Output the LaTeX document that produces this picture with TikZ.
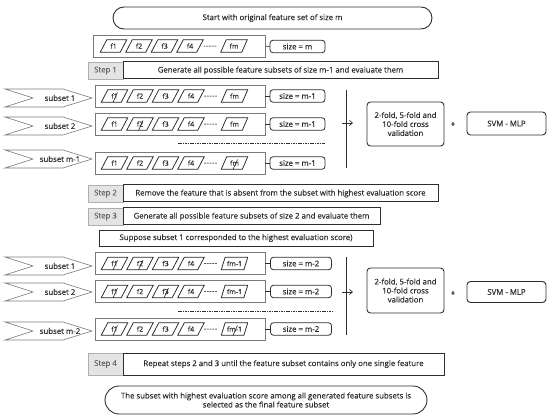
\documentclass[tikz,border=0pt]{standalone}
\usepackage{fontspec}
\setmainfont{Open Sans}[FakeBold=0.35]
\usetikzlibrary{shapes.geometric,arrows.meta}
\definecolor{dk}{HTML}{2E2E2E}
\definecolor{mid}{HTML}{7A7A7A}
\definecolor{stepgray}{HTML}{E4E4E4}
\begin{document}
\begin{tikzpicture}[x=1pt,y=-1pt,
  font=\fontsize{7.8}{9}\selectfont, text=dk,
  stadium/.style={draw=dk, line width=0.9pt, rounded corners=11pt, inner sep=0pt, align=center},
  fbox/.style={draw=mid, line width=0.7pt, minimum width=170pt, minimum height=22pt, inner sep=0pt},
  par/.style={trapezium, trapezium left angle=60, trapezium right angle=120, trapezium stretches=true,
     draw=black!85, line width=0.75pt, minimum width=26.5pt, minimum height=12.5pt, inner sep=0pt,
     font=\fontsize{7}{8}\selectfont},
  dots/.style={font=\fontsize{7.5}{8}\selectfont, inner sep=0pt},
  sizebox/.style={draw=dk, line width=0.8pt, rounded corners=3pt, minimum height=12.5pt, inner sep=0pt},
  steplab/.style={draw=mid!60, fill=stepgray, line width=0.5pt, minimum width=35pt, inner sep=0pt, text=black!60},
  steptxt/.style={draw=dk, line width=1pt, inner sep=0pt},
  rbox/.style={draw=dk, line width=0.9pt, rounded corners=3.5pt, inner sep=0pt, align=center},
  chev/.style={draw=mid, line width=0.6pt},
  link/.style={draw=dk, line width=0.7pt},
  strike/.style={draw=black!85, line width=0.6pt}
]
\useasboundingbox (0,0) rectangle (550,420);
\newcommand{\fivedash}{-\kern0.3pt-\kern0.3pt-\kern0.3pt-\kern0.3pt-}

% ---------- top ----------
\node[stadium, minimum width=319pt, minimum height=22pt] (start) at (272.5,18) {Start with original feature set of size m};

% row 0
\node[fbox, minimum width=172pt] (r0box) at (179,46) {};
\node[par] (r0f1) at (113.5,46) {f1};
\node[par] (r0f2) at (139,46) {f2};
\node[par] (r0f3) at (164.5,46) {f3};
\node[par] (r0f4) at (190,46) {f4};
\node[dots] (r0d) at (210,47) {\fivedash};
\node[par] (r0fm) at (234,46) {fm};
\node[sizebox, minimum width=55pt] (r0size) at (297.5,46.5) {size = m};
\draw[link] (r0box.east) -- (r0size.west);

% step 1
\node[steplab, minimum height=17pt] (s1l) at (105.5,70.5) {Step 1};
\node[steptxt, minimum width=315pt, minimum height=17pt] (s1t) at (280.5,70.5) {Generate all possible feature subsets of size m-1 and evaluate them};

% ---------- rows ----------
\newcommand{\chevron}[3]{%
  \draw[chev] (5,#2-9) -- (63,#2-9) -- (92,#2) -- (63,#2+9) -- (5,#2+9) -- (33,#2) -- cycle;
  \node (#1) at (60,#2) {#3};}
\newcommand{\featrow}[8]{% name, y, last label, size label, size x, size w, crosses, chevron y
  \node[fbox] (#1box) at (180,#2) {};
  \node[par] (#1f1) at (114.5,#2) {f1};
  \node[par] (#1f2) at (140,#2) {f2};
  \node[par] (#1f3) at (165.5,#2) {f3};
  \node[par] (#1f4) at (191,#2) {f4};
  \node[dots] (#1d) at (210.5,#2+1) {\fivedash};
  \node[par] (#1fm) at (234.5,#2) {#3};
  \node[sizebox, minimum width=#6pt] (#1size) at (#5,#2) {#4};
  \draw[link] (#1box.east) -- (#1size.west);
  \foreach \c in {#7} {\draw[strike] ([shift={(-1.5,6.5)}]#1\c.center) -- ([shift={(3,-3.5)}]#1\c.center);}
}

\featrow{ra}{96}{fm}{size = m-1}{297.5}{55}{f1}{98}
\chevron{ca}{98}{subset 1}
\featrow{rb}{124}{fm}{size = m-1}{297.5}{55}{f2}{126}
\chevron{cb}{126}{subset 2}
\coordinate (da1) at (178,143); \coordinate (da2) at (325,143);
\draw[link, dash pattern=on 1.6pt off 0.8pt, line width=0.6pt] (da1) -- (da2);
\featrow{rc}{163}{fm}{size = m-1}{297.5}{55}{fm}{159}
\chevron{cc}{159}{subset m-1}

% right side group 1
\coordinate (v1a) at (346,90); \coordinate (v1b) at (346,168);
\draw[draw=dk, line width=0.8pt] (v1a) -- (v1b);
\coordinate (ar1a) at (342,123); \coordinate (ar1b) at (353,123);
\draw[link, -{Straight Barb[length=3pt,width=5pt]}] (ar1a) -- (ar1b);
\node[rbox, minimum width=77pt, minimum height=44pt] (cv1) at (405.5,124) {2-fold, 5-fold and\\10-fold cross\\validation};
\node (plus1) at (453,124.5) {+};
\node[rbox, minimum width=79pt, minimum height=23pt] (svm1) at (506.5,123.5) {SVM - MLP};

% step 2, 3
\node[steplab, minimum height=17pt] (s2l) at (105.5,193.5) {Step 2};
\node[steptxt, minimum width=315pt, minimum height=17pt] (s2t) at (280.5,193.5) {Remove the feature that is absent from the subset with highest evaluation score};
\node[steplab, minimum height=17pt] (s3l) at (105.5,216.5) {Step 3};
\node[steptxt, minimum width=257pt, minimum height=17pt] (s3t) at (251.5,216.5) {Generate all possible feature subsets of size 2 and evaluate them};

\node[draw=dk, line width=0.7pt, minimum width=274pt, minimum height=16pt, inner sep=0pt] (sup) at (236,238) {Suppose subset 1 corresponded to the highest evaluation score)};

% ---------- group 2 rows ----------
\featrow{rd}{263.5}{fm-1}{size = m-2}{301}{61}{f1,f2}{266}
\chevron{cd}{266}{subset 1}
\featrow{re}{291.5}{fm-1}{size = m-2}{301}{61}{f1,f3}{292}
\chevron{ce}{292}{subset 2}
\coordinate (db1) at (178,311); \coordinate (db2) at (332,311);
\draw[link, dash pattern=on 1.6pt off 0.8pt, line width=0.6pt] (db1) -- (db2);
\featrow{rf}{329}{fm-1}{size = m-2}{301}{61}{f1,fm}{331}
\chevron{cf}{331}{subset m-2}

% right side group 2
\coordinate (v2a) at (346,257); \coordinate (v2b) at (346,335);
\draw[draw=dk, line width=0.8pt] (v2a) -- (v2b);
\coordinate (ar2a) at (342,292); \coordinate (ar2b) at (353,292);
\draw[link, -{Straight Barb[length=3pt,width=5pt]}] (ar2a) -- (ar2b);
\node[rbox, minimum width=77pt, minimum height=45pt] (cv2) at (405.5,290.5) {2-fold, 5-fold and\\10-fold cross\\validation};
\node (plus2) at (453,293.5) {+};
\node[rbox, minimum width=79pt, minimum height=21pt] (svm2) at (506.5,292) {SVM - MLP};

% step 4
\node[steplab, minimum height=22pt] (s4l) at (105.5,364) {Step 4};
\node[steptxt, minimum width=321pt, minimum height=22pt] (s4t) at (283.5,364) {Repeat steps 2 and 3 until the feature subset contains only one single feature};

% final
\node[stadium, rounded corners=14pt, minimum width=322pt, minimum height=28pt] (final) at (266,400) {The subset with highest evaluation score among all generated feature subsets is\\selected as the final feature subset};
\end{tikzpicture}
\end{document}
